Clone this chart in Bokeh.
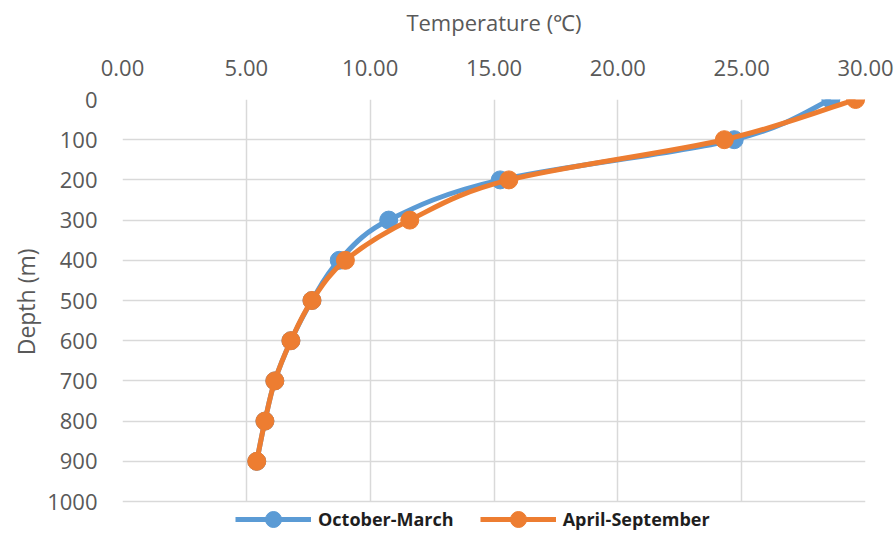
import numpy as np
from bokeh.plotting import figure
from bokeh.models import Range1d, FixedTicker, NumeralTickFormatter, Legend, LegendItem, Title
from bokeh.embed import file_html
from bokeh.resources import INLINE

# ---- data ----
depth = [0, 100, 200, 300, 400, 500, 600, 700, 800, 900]
temp_oct_mar = [28.6, 24.7, 15.25, 10.75, 8.75, 7.65, 6.8, 6.15, 5.75, 5.42]
temp_apr_sep = [29.6, 24.3, 15.6, 11.6, 9.0, 7.65, 6.8, 6.15, 5.75, 5.42]
series_names = ["October-March", "April-September"]
x_ticks = [0, 5, 10, 15, 20, 25, 30]
y_ticks = [0, 100, 200, 300, 400, 500, 600, 700, 800, 900, 1000]

BLUE = "#5B9BD5"
ORANGE = "#ED7D31"
GRID = "#D9D9D9"
TXT = "#595959"
FONT = "Open Sans"

PLOT_H = 402      # pixel height of the 0..1000 grid box
LEGEND_H = 39     # extra room below the grid box for the legend
Y_MAX = 1000.0
y_view_max = Y_MAX * (PLOT_H + LEGEND_H) / PLOT_H


def smooth_segments(xs, ys):
    """Catmull-Rom style bezier control points (Excel-like smoothed line)."""
    P = np.column_stack([xs, ys]).astype(float)
    n = len(P)
    x0, y0, x1, y1, cx0, cy0, cx1, cy1 = ([] for _ in range(8))
    for i in range(n - 1):
        pm = P[i - 1] if i > 0 else P[i]
        p3 = P[i + 2] if i + 2 < n else P[i + 1]
        c0 = P[i] + (P[i + 1] - pm) / 6.0
        c1 = P[i + 1] - (p3 - P[i]) / 6.0
        x0.append(P[i][0]); y0.append(P[i][1])
        x1.append(P[i + 1][0]); y1.append(P[i + 1][1])
        cx0.append(c0[0]); cy0.append(c0[1])
        cx1.append(c1[0]); cy1.append(c1[1])
    return dict(x0=x0, y0=y0, x1=x1, y1=y1, cx0=cx0, cy0=cy0, cx1=cx1, cy1=cy1)


p = figure(frame_width=743, frame_height=PLOT_H + LEGEND_H,
           x_range=Range1d(0, 30), y_range=Range1d(y_view_max, 0),
           x_axis_location="above",
           output_backend="svg", toolbar_location=None,
           min_border_left=122, min_border_top=99,
           min_border_right=30, min_border_bottom=0)

p.outline_line_color = None

# axes styling
xa = p.xaxis[0]
xa.ticker = FixedTicker(ticks=x_ticks)
xa.formatter = NumeralTickFormatter(format="0.00")
xa.axis_label = "Temperature (℃)"
ya = p.yaxis[0]
ya.ticker = FixedTicker(ticks=y_ticks)
ya.bounds = (0, Y_MAX)
for ax in (xa, ya):
    ax.axis_line_color = None
    ax.major_tick_line_color = None
    ax.minor_tick_line_color = None
    ax.major_tick_out = 0
    ax.major_tick_in = 0
    ax.minor_tick_out = 0
    ax.major_label_text_font = FONT
    ax.major_label_text_color = TXT
    ax.axis_label_text_font = FONT
    ax.axis_label_text_font_style = "normal"
    ax.axis_label_text_color = TXT
xa.major_label_text_font_size = "22px"
ya.major_label_text_font_size = "22px"
xa.axis_label_text_font_size = "22px"
xa.major_label_standoff = 24
xa.axis_label_standoff = 20
ya.major_label_standoff = 25

# y-axis label as a left title, centred on the 0..1000 box (not on the legend strip)
ytitle = Title(text="Depth (m)", align="right", offset=149,
               text_font=FONT, text_font_size="23px", text_font_style="normal",
               text_color=TXT, standoff=6)
p.add_layout(ytitle, "left")

for g in (p.xgrid[0], p.ygrid[0]):
    g.grid_line_color = GRID
    g.grid_line_width = 1.5
p.xgrid[0].ticker = FixedTicker(ticks=x_ticks)
p.ygrid[0].ticker = FixedTicker(ticks=y_ticks)
try:
    p.xgrid[0].cross_bounds = (0, Y_MAX)
except Exception:
    p.xgrid[0].visible = False
    p.segment(x0=x_ticks, y0=[0] * len(x_ticks), x1=x_ticks,
              y1=[Y_MAX] * len(x_ticks), line_color=GRID, line_width=1.5,
              level="underlay")

# series
items = []
for name, temps, col in ((series_names[0], temp_oct_mar, BLUE),
                         (series_names[1], temp_apr_sep, ORANGE)):
    seg = smooth_segments(temps, depth)
    r_line = p.bezier(x0="x0", y0="y0", x1="x1", y1="y1",
                      cx0="cx0", cy0="cy0", cx1="cx1", cy1="cy1",
                      source=seg, line_color=col, line_width=5)
    r_pts = p.scatter(temps, depth, size=18, marker="circle",
                      fill_color=col, line_color=col)
    items.append(LegendItem(label=name, renderers=[r_line, r_pts]))

legend = Legend(items=items, orientation="horizontal", location=(113, 1),
                border_line_color=None, background_fill_alpha=0,
                label_text_font=FONT, label_text_font_style="bold",
                label_text_font_size="18px", label_text_color="#1E1E1E",
                glyph_width=76, glyph_height=40, label_height=20,
                label_standoff=7, spacing=26, padding=0, margin=0)
p.add_layout(legend, "center")

open("out.html", "w").write(file_html(p, INLINE))
